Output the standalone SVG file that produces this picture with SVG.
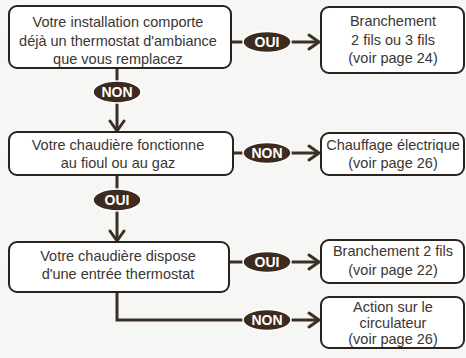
<svg xmlns="http://www.w3.org/2000/svg" width="466" height="358" viewBox="0 0 466 358">
<style>
.box{fill:#fff;stroke:#2a221d;stroke-width:2}
.t{font-family:"Liberation Sans",Arial,sans-serif;font-size:14.5px;fill:#3a3633;text-anchor:middle}
.ln{fill:none;stroke:#3e2f25;stroke-width:3}
.ah{fill:none;stroke:#3e2f25;stroke-width:3;stroke-linecap:round;stroke-linejoin:round}
.el{fill:#3e2b20;stroke:#fff;stroke-width:1.5}
.lb{font-family:"Liberation Sans",Arial,sans-serif;font-size:14px;font-weight:bold;fill:#fff;text-anchor:middle}
</style>
<rect width="466" height="358" fill="#f6f6f4"/>
<g id="connectors">
  <path class="ln" d="M231 42H318"/>
  <path class="ah" d="M309 35L319 42L309 49"/>
  <path class="ln" d="M117 68V130"/>
  <path class="ah" d="M110 121L117 131L124 121"/>
  <path class="ln" d="M233 153H318"/>
  <path class="ah" d="M309 146L319 153L309 160"/>
  <path class="ln" d="M117 175V240"/>
  <path class="ah" d="M110 231L117 241L124 231"/>
  <path class="ln" d="M229 262H318"/>
  <path class="ah" d="M309 255L319 262L309 269"/>
  <path class="ln" d="M117 292V320H318"/>
  <path class="ah" d="M309 313L319 320L309 327"/>
  <ellipse class="el" cx="267" cy="42" rx="24" ry="10.5"/>
  <text class="lb" x="267" y="47">OUI</text>
  <ellipse class="el" cx="117" cy="92" rx="24" ry="11"/>
  <text class="lb" x="117" y="97">NON</text>
  <ellipse class="el" cx="267" cy="153" rx="24" ry="10.5"/>
  <text class="lb" x="267" y="158">NON</text>
  <ellipse class="el" cx="117" cy="200" rx="24" ry="11"/>
  <text class="lb" x="117" y="205">OUI</text>
  <ellipse class="el" cx="267" cy="262" rx="24" ry="10.5"/>
  <text class="lb" x="267" y="267">OUI</text>
  <ellipse class="el" cx="267" cy="320" rx="24" ry="10.5"/>
  <text class="lb" x="267" y="325">NON</text>
</g>
<g id="q1">
  <rect class="box" x="9" y="6" width="222" height="62" rx="8"/>
  <text class="t" x="118" y="27">Votre installation comporte</text>
  <text class="t" x="118" y="46">déjà un thermostat d'ambiance</text>
  <text class="t" x="118" y="64">que vous remplacez</text>
</g>
<g id="r1">
  <rect class="box" x="321" y="7" width="143" height="66" rx="8"/>
  <text class="t" x="393" y="26">Branchement</text>
  <text class="t" x="393" y="45">2 fils ou 3 fils</text>
  <text class="t" x="393" y="63">(voir page 24)</text>
</g>
<g id="q2">
  <rect class="box" x="9" y="132" width="224" height="43" rx="8"/>
  <text class="t" x="118" y="150">Votre chaudière fonctionne</text>
  <text class="t" x="118" y="168">au fioul ou au gaz</text>
</g>
<g id="r2">
  <rect class="box" x="321" y="133" width="143" height="42" rx="8"/>
  <text class="t" x="393" y="150">Chauffage électrique</text>
  <text class="t" x="393" y="168">(voir page 26)</text>
</g>
<g id="q3">
  <rect class="box" x="9" y="242" width="220" height="50" rx="8"/>
  <text class="t" x="118" y="261">Votre chaudière dispose</text>
  <text class="t" x="118" y="279">d'une entrée thermostat</text>
</g>
<g id="r3">
  <rect class="box" x="321" y="240" width="143" height="43" rx="8"/>
  <text class="t" x="393" y="256">Branchement 2 fils</text>
  <text class="t" x="393" y="275">(voir page 22)</text>
</g>
<g id="r4">
  <rect class="box" x="321" y="297" width="143" height="51" rx="8"/>
  <text class="t" x="393" y="312">Action sur le</text>
  <text class="t" x="393" y="328">circulateur</text>
  <text class="t" x="393" y="344">(voir page 26)</text>
</g>
</svg>
